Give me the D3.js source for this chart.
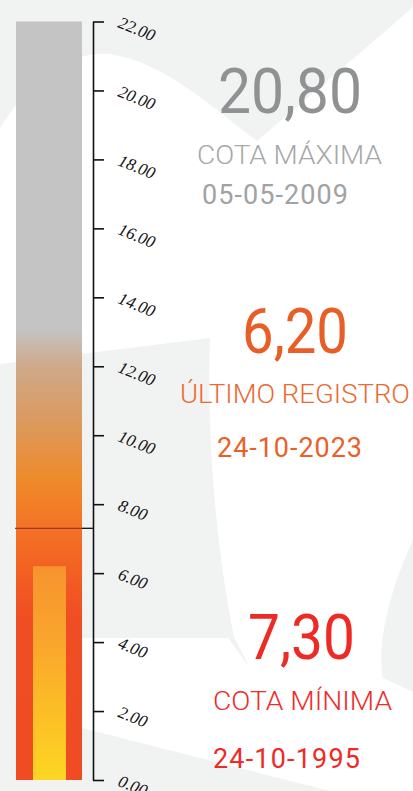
<!DOCTYPE html>
<html>
<head>
<meta charset="utf-8">
<script src="https://cdn.jsdelivr.net/npm/d3@7"></script>
<style>
  html, body { margin: 0; padding: 0; background: #fff; }
  svg { display: block; }
</style>
</head>
<body>
<svg id="chart" width="413" height="791"></svg>
<script>
// --- data ---
var axisTicks = [0, 2, 4, 6, 8, 10, 12, 14, 16, 18, 20, 22];
var scaleTop = 22;
var statValues = [20.80, 6.20, 7.30];
var statLabels = ["COTA MÁXIMA", "ÚLTIMO REGISTRO", "COTA MÍNIMA"];
var statDates = ["05-05-2009", "24-10-2023", "24-10-1995"];
var lastLevel = 6.20,
    minLevel = 7.30;

// gradient stops (level -> colour)
var outerStops = [
  [22, "#c4c4c4"], [13.1, "#c4c4c4"], [12, "#cfa98a"], [10.2, "#dd9859"],
  [8.7, "#ef8a2a"], [7.4, "#f37426"], [6.6, "#f36822"], [5.5, "#f15823"],
  [4.6, "#ef4d23"], [0, "#ef4c23"]
];
var innerStops = [[6.2, "#f7932f"], [4, "#f9a62c"], [1.5, "#fcc425"], [0, "#fdd623"]];

var svg = d3.select("#chart"),
    width = 413, height = 791;

var y = d3.scaleLinear().domain([0, scaleTop]).range([780, 21.5]),
    fmt = d3.format(".2f");

// background swooshes
var bg = svg.append("g");
bg.append("rect").attr("width", width).attr("height", height).attr("fill", "#fff");
var grey = "#f1f2f2";
bg.append("path").attr("fill", grey)
  .attr("d", "M0,0 H413 V6 L410,10 L257,141 C215,110 165,62 110,54 C70,50 30,80 0,128 Z");
bg.append("path").attr("fill", grey)
  .attr("d", "M0,364 L210,338 C206,440 218,560 234,637 L250,668 L228,638 L82,638 L82,728 L330,791 L0,791 Z");
bg.append("path").attr("fill", grey)
  .attr("d", "M413,540 C392,585 376,640 383,678 L413,692 Z");

// gradients
var defs = svg.append("defs");
function addGradient(id, stops, from, to) {
  var g = defs.append("linearGradient").attr("id", id)
    .attr("gradientUnits", "userSpaceOnUse")
    .attr("x1", 0).attr("x2", 0)
    .attr("y1", y(from)).attr("y2", y(to));
  g.selectAll("stop").data(stops).enter().append("stop")
    .attr("offset", function(d) { return (y(d[0]) - y(from)) / (y(to) - y(from)); })
    .attr("stop-color", function(d) { return d[1]; });
}
addGradient("outerGrad", outerStops, scaleTop, 0);
addGradient("innerGrad", innerStops, lastLevel, 0);

// bars
svg.append("rect")
  .attr("x", 16).attr("width", 66)
  .attr("y", y(scaleTop)).attr("height", y(0) - y(scaleTop))
  .attr("fill", "url(#outerGrad)");
svg.append("rect")
  .attr("x", 33).attr("width", 33)
  .attr("y", y(lastLevel)).attr("height", y(0) - y(lastLevel))
  .attr("fill", "url(#innerGrad)");

// minimum marker
svg.append("line")
  .attr("x1", 15).attr("x2", 82)
  .attr("y1", y(minLevel)).attr("y2", y(minLevel))
  .style("stroke", "#9a3532").style("stroke-width", "1.3px");
svg.append("line")
  .attr("x1", 82).attr("x2", 93)
  .attr("y1", y(minLevel)).attr("y2", y(minLevel))
  .style("stroke", "#111").style("stroke-width", "1.3px");

// axis
var axis = svg.append("g")
  .attr("transform", "translate(93,0)")
  .call(d3.axisRight(y).tickValues(axisTicks).tickSize(11).tickSizeOuter(0)
    .tickFormat(function(d) { return fmt(d); }));
axis.select(".domain").style("stroke", "#111").style("stroke-width", "1.6px");
axis.selectAll(".tick line").style("stroke", "#111").style("stroke-width", "1.6px");
axis.selectAll(".tick text")
  .attr("x", 0).attr("dy", 0)
  .attr("text-anchor", "start")
  .attr("transform", "translate(24,5) rotate(22)")
  .style("font-family", "'Liberation Serif', serif")
  .style("font-style", "italic")
  .style("font-size", "17px")
  .style("fill", "#111");

// stat blocks
var blocks = [
  {num: [218, 113, 144], lab: [197, 164, 185], date: [202, 204, 146], c: ["#8f9193", "#a6a8aa", "#a0a2a4"]},
  {num: [242, 353, 106], lab: [180, 403, 230], date: [217, 457, 145], c: ["#e85e26", "#ea6a33", "#ea6128"]},
  {num: [248, 659, 107], lab: [213, 710, 179], date: [213, 768, 147], c: ["#ee2a25", "#ee2c2a", "#ee2a27"]}
];

statValues.forEach(function(v, i) {
  var b = blocks[i];
  svg.append("text")
    .attr("x", b.num[0]).attr("y", b.num[1])
    .attr("textLength", b.num[2]).attr("lengthAdjust", "spacingAndGlyphs")
    .style("font-family", "Roboto, sans-serif").style("font-size", "63px")
    .style("fill", b.c[0])
    .text(fmt(v).replace(".", ","));
  svg.append("text")
    .attr("x", b.lab[0]).attr("y", b.lab[1])
    .attr("textLength", b.lab[2]).attr("lengthAdjust", "spacingAndGlyphs")
    .style("font-family", "Roboto, sans-serif").style("font-size", "25px")
    .style("font-weight", 300)
    .style("fill", b.c[1])
    .text(statLabels[i]);
  svg.append("text")
    .attr("x", b.date[0]).attr("y", b.date[1])
    .attr("textLength", b.date[2]).attr("lengthAdjust", "spacing")
    .style("font-family", "Roboto, sans-serif").style("font-size", "27px")
    .style("fill", b.c[2])
    .text(statDates[i]);
});
</script>
</body>
</html>
